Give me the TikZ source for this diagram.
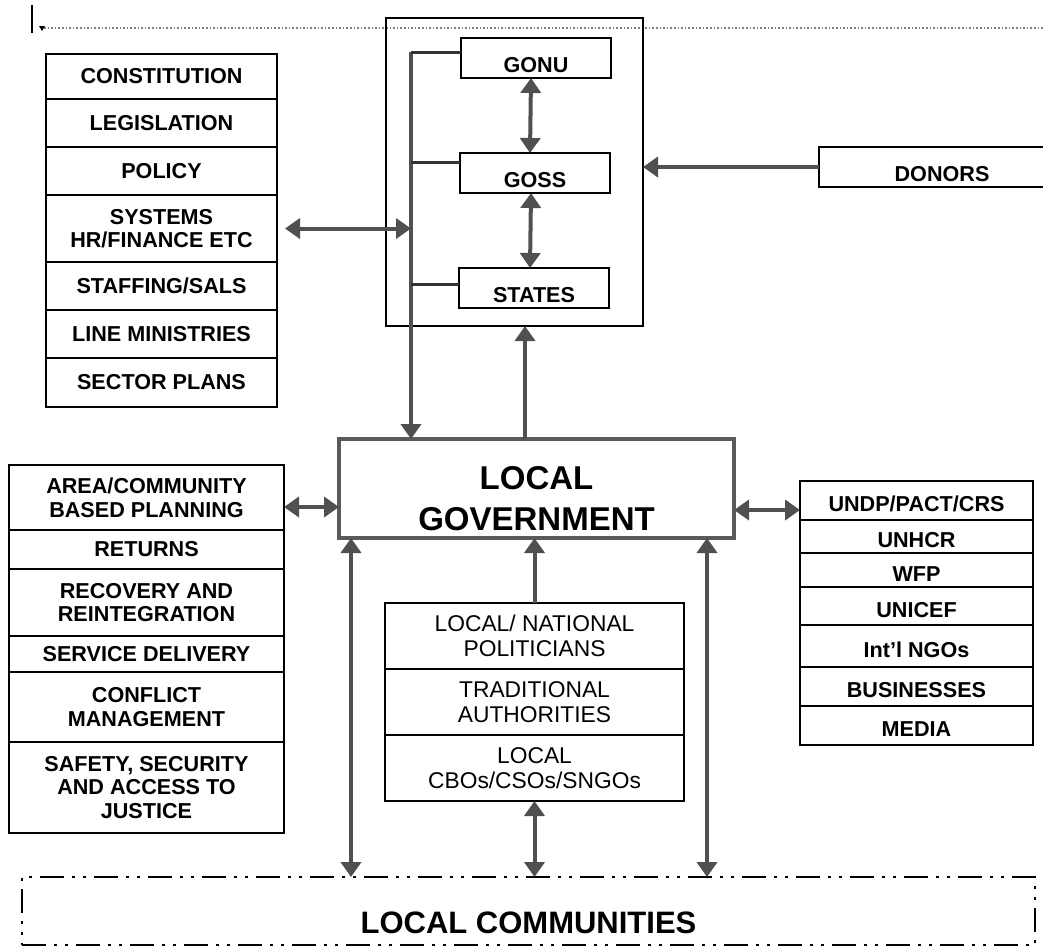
\documentclass[tikz,border=0pt]{standalone}
\usepackage{fontspec}
\setmainfont{Liberation Sans}
\usetikzlibrary{arrows.meta}
\definecolor{arrowgray}{HTML}{505050}
\definecolor{framegray}{HTML}{5A5A5A}
\tikzset{
  cell/.style={draw, line width=0.8pt, inner sep=0pt, outer sep=0pt, anchor=north west, align=center,
    font=\bfseries\fontsize{10.8}{11.8}\selectfont},
  leftcell/.style={cell, minimum width=115.5pt},
  sidecell/.style={cell, minimum width=137.5pt},
  rightcell/.style={cell, minimum width=116.5pt, text height=11pt, text depth=0pt},
  midcell/.style={cell, minimum width=149.5pt, minimum height=33pt, font=\fontsize{11.4}{12.5}\selectfont},
  govcell/.style={cell, minimum width=75pt, minimum height=20pt, text height=14.5pt, text depth=0pt},
  lgbox/.style={draw=framegray, line width=1.6pt, inner sep=0pt, outer sep=0pt, anchor=north west, align=center,
    minimum width=197.5pt, minimum height=49.5pt, text height=41.5pt, text depth=0pt,
    font=\bfseries\fontsize{16.5}{20.5}\selectfont},
  lcbox/.style={draw, line width=1.3pt, inner sep=0pt, outer sep=0pt, anchor=north west,
    minimum width=506.5pt, minimum height=34pt, text height=22pt, text depth=0pt,
    dash pattern=on 12pt off 4pt on 1.5pt off 4pt on 1.5pt off 4pt,
    font=\bfseries\fontsize{15.5}{18}\selectfont},
  oneway/.style={draw=arrowgray, line width=2pt, -{Triangle[width=10pt,length=7.5pt]}},
  twoway/.style={draw=arrowgray, line width=2pt, {Triangle[width=10pt,length=7.5pt]}-{Triangle[width=10pt,length=7.5pt]}},
  bus/.style={draw=arrowgray, line width=2pt},
  stub/.style={draw=black!80, line width=1.5pt}
}
\begin{document}
\begin{tikzpicture}[x=0.5pt,y=-0.5pt]
\useasboundingbox (0,0) rectangle (1043,950);
%ruler at the top
\draw[line width=0.7pt] (32,5) -- (32,33);
\draw[gray, densely dotted, line width=0.8pt] (44,28) -- (1043,28);
\fill (39,26) -- (45,26) -- (42,31) -- cycle;

% government levels
\node[draw, line width=0.7pt, inner sep=0pt, outer sep=0pt, anchor=north west,
  minimum width=128.5pt, minimum height=154pt] (gov) at (386,18) {};
\node[govcell] (gonu) at (461,38) {GONU};
\node[govcell] (goss) at (460,153) {GOSS};
\node[govcell] (states) at (459,268) {STATES};
\node[govcell, minimum width=123pt] (donors) at (819,147) {DONORS};

% frameworks
\node[leftcell, minimum height=22.5pt] (cons) at (46,54) {CONSTITUTION};
\node[leftcell, minimum height=24pt] (legis) at (cons.south west) {LEGISLATION};
\node[leftcell, minimum height=24pt] (policy) at (legis.south west) {POLICY};
\node[leftcell, minimum height=33.5pt] (sys) at (policy.south west) {SYSTEMS\\HR/FINANCE ETC};
\node[leftcell, minimum height=24pt] (staff) at (sys.south west) {STAFFING/SALS};
\node[leftcell, minimum height=24pt] (lines) at (staff.south west) {LINE MINISTRIES};
\node[leftcell, minimum height=24.5pt] (sector) at (lines.south west) {SECTOR PLANS};

\node[lgbox] (lg) at (339,439) {LOCAL\\GOVERNMENT};

% functions
\node[sidecell, minimum height=32.5pt] (area) at (9,465) {AREA/COMMUNITY\\BASED PLANNING};
\node[sidecell, minimum height=19.5pt] (ret) at (area.south west) {RETURNS};
\node[sidecell, minimum height=33.5pt] (recov) at (ret.south west) {RECOVERY AND\\REINTEGRATION};
\node[sidecell, minimum height=18pt] (serv) at (recov.south west) {SERVICE DELIVERY};
\node[sidecell, minimum height=35pt] (confl) at (serv.south west) {CONFLICT\\MANAGEMENT};
\node[sidecell, minimum height=45.5pt] (safe) at (confl.south west) {SAFETY, SECURITY\\AND ACCESS TO\\JUSTICE};

% partners
\node[rightcell, minimum height=19.5pt] (undp) at (800,481) {UNDP/PACT/CRS};
\node[rightcell, minimum height=16.5pt] (unhcr) at (undp.south west) {UNHCR};
\node[rightcell, minimum height=17pt] (wfp) at (unhcr.south west) {WFP};
\node[rightcell, minimum height=19pt] (unicef) at (wfp.south west) {UNICEF};
\node[rightcell, minimum height=21pt] (ingo) at (unicef.south west) {Int'l NGOs};
\node[rightcell, minimum height=19.5pt] (busi) at (ingo.south west) {BUSINESSES};
\node[rightcell, minimum height=19.5pt] (media) at (busi.south west) {MEDIA};

% local actors
\node[midcell] (pols) at (385,603) {LOCAL/ NATIONAL\\POLITICIANS};
\node[midcell] (trad) at (pols.south west) {TRADITIONAL\\AUTHORITIES};
\node[midcell] (cbos) at (trad.south west) {LOCAL\\CBOs/CSOs/SNGOs};

\node[lcbox] (lc) at (22,877) {LOCAL COMMUNITIES};

% links inside government
\coordinate (bustop) at (411,52);
\draw[oneway] (bustop) -- (bustop |- lg.north);
\draw[stub] ([yshift=3pt]gonu.west) -- ++(-25pt,0);
\draw[stub] ([yshift=5.5pt]goss.west) -- ++(-24.5pt,0);
\draw[stub] ([yshift=2pt]states.west) -- ++(-24pt,0);
\draw[twoway] ([xshift=-2.5pt]gonu.south) -- ([xshift=-2.5pt]goss.north);
\draw[twoway] ([xshift=-2pt]goss.south) -- ([xshift=-2pt]states.north);
\draw[twoway] ([xshift=4pt]sys.east) -- (bustop |- sys.east);
\draw[oneway] (donors.west) -- (donors.west -| gov.east);

% links to local government
\coordinate (up1) at ([xshift=-5.75pt]lg.north);
\draw[oneway] (up1) -- (up1 |- gov.south);
\draw[oneway] (pols.north) -- (pols.north |- lg.south);
\coordinate (la) at ([yshift=-4.75pt]area.east);
\draw[twoway] (la) -- (la -| lg.west);
\coordinate (ra) at ([yshift=-4.75pt]undp.west);
\draw[twoway] (ra -| lg.east) -- (ra);
\coordinate (vl) at ([xshift=6pt]lg.south west);
\coordinate (vr) at ([xshift=-13.5pt]lg.south east);
\draw[twoway] (vl) -- (vl |- lc.north);
\draw[twoway] (vr) -- (vr |- lc.north);
\draw[twoway] (cbos.south) -- (cbos.south |- lc.north);
\end{tikzpicture}
\end{document}
